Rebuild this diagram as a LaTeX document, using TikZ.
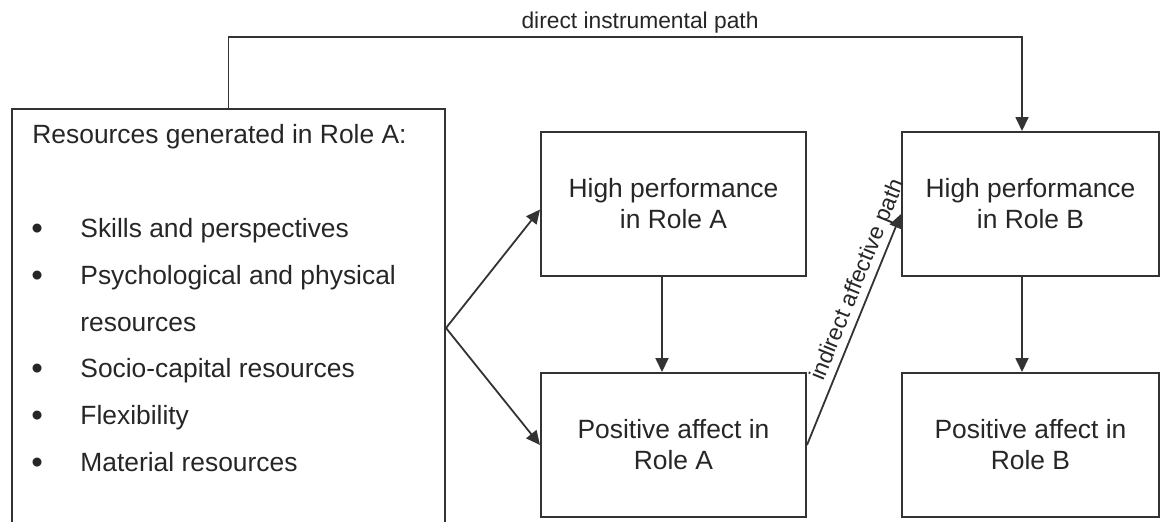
\documentclass[tikz,border=0pt]{standalone}
\usepackage{fontspec}
\setmainfont{Liberation Sans}
\usetikzlibrary{arrows.meta}
\definecolor{inkgray}{HTML}{333333}
\newcommand{\boxfont}{\fontsize{13.2}{15.5}\selectfont}
\newcommand{\pathfont}{\fontsize{11.4}{13}\selectfont}

\begin{document}
\begin{tikzpicture}[x=0.5pt,y=-0.5pt]
                        \tikzstyle{rolebox}=[draw=inkgray, line width=1pt, minimum width=132.5pt, minimum height=72pt, align=center, text=black!85, font=\boxfont]
                        \tikzstyle{listline}=[anchor=base west, inner sep=0pt, text=black!85, font=\boxfont]
                        \tikzstyle{link}=[draw=inkgray, line width=0.9pt, -{Triangle[length=7pt,width=6.5pt]}]
                        \useasboundingbox (0,0) rectangle (1161,521);
                        \clip (0,0) rectangle (1161,521);
                        % resources box, open at the bottom of the page
                        \node[draw=inkgray, line width=1pt, anchor=north west, inner sep=0pt, minimum width=216.5pt, minimum height=219pt] (res) at (11,108) {};
                        \node[listline] (reshead) at (32,143) {Resources generated in Role A:};
                        \foreach \name/\yy/\txt in {skills/237/Skills and perspectives, psych/284/Psychological and physical, socio/377/Socio-capital resources, flex/424/Flexibility, material/471/Material resources}
                        {
                            \node[listline] (\name) at (80,\yy) {\txt};
                            \node[listline, font=\fontsize{16.5}{16.5}\selectfont] (\name-dot) at (31,\yy+2.5) {\textbullet};
                        }
                        \node[listline] (psychmore) at (80,331) {resources};
                        % role boxes
                        \node[rolebox] (hpa) at (673.5,203.5) {High performance\\in Role A};
                        \node[rolebox] (pa) at (673.5,445) {Positive affect in\\Role A};
                        \node[rolebox, minimum width=128.5pt] (hpb) at (1030.5,204) {High performance\\in Role B};
                        \node[rolebox, minimum width=128.5pt] (pb) at (1030.5,445) {Positive affect in\\Role B};
                        % paths
                        \coordinate (bend) at (1022,37);
                        \draw[link] (res.north) |- (bend) -- (bend |- hpb.north);
                        \node[font=\pathfont, anchor=base, inner sep=0pt, text=black!85] (dlabel) at (640,28) {direct instrumental path};
                        \draw[link] (res.east) -- ([yshift=-3pt]hpa.west);
                        \draw[link] (res.east) -- (pa.west);
                        \draw[link] ([xshift=-5.75pt]hpa.south) -- ([xshift=-5.75pt]pa.north);
                        \draw[link] ([xshift=-4.25pt]hpb.south) -- ([xshift=-4.25pt]pb.north);
                        \draw[link] (pa.east) -- node[sloped, above, pos=0.69, font=\pathfont, inner sep=1.5pt, text=black!85] (ilabel) {indirect affective path} ([yshift=-5pt]hpb.west);
\end{tikzpicture}
\end{document}
